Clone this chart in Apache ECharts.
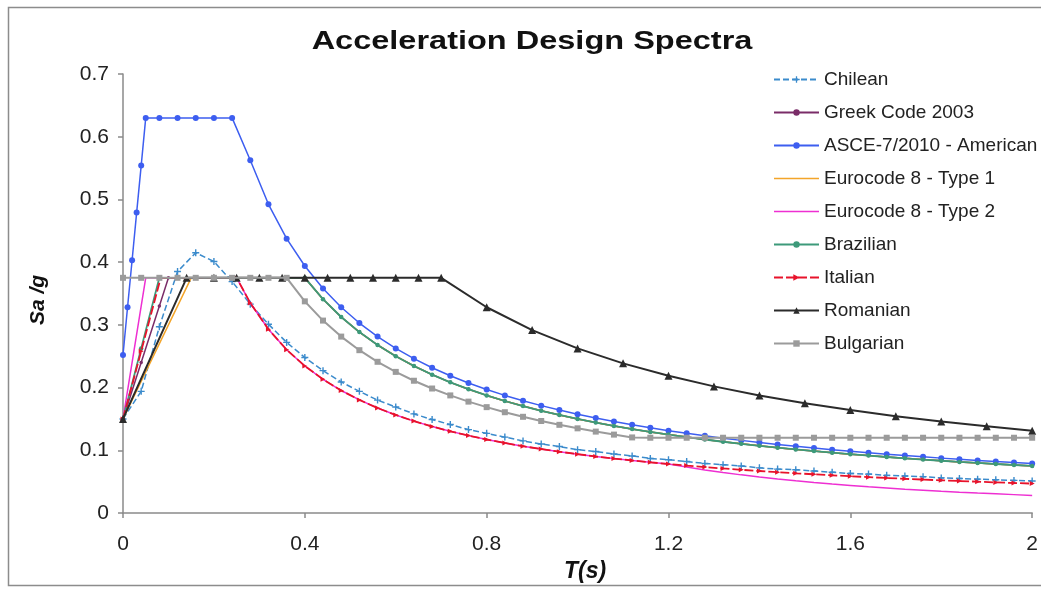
<!DOCTYPE html>
<html>
<head>
<meta charset="utf-8">
<script src="https://cdn.jsdelivr.net/npm/echarts@6/dist/echarts.min.js"></script>
<style>
html,body{margin:0;padding:0;background:#fff;}
#chart{width:1041px;height:589px;}
</style>
</head>
<body>
<div id="chart"></div>
<script>
// ---------------- DATA ----------------
const chartTitle = 'Acceleration Design Spectra';
const xAxisTitle = 'T(s)';
const yAxisTitle = 'Sa /g';
const seriesNames = ['Chilean','Greek Code 2003','ASCE-7/2010 - American','Eurocode 8 - Type 1','Eurocode 8 - Type 2','Brazilian','Italian','Romanian','Bulgarian'];
const xTickLabels = ['0','0.4','0.8','1.2','1.6','2'];
const yTickLabels = ['0','0.1','0.2','0.3','0.4','0.5','0.6','0.7'];

const tGrid = [0,0.04,0.08,0.12,0.16,0.20,0.24,0.28,0.32,0.36,0.40,0.44,0.48,0.52,0.56,0.60,0.64,0.68,0.72,0.76,0.80,0.84,0.88,0.92,0.96,1.00,1.04,1.08,1.12,1.16,1.20,1.24,1.28,1.32,1.36,1.40,1.44,1.48,1.52,1.56,1.60,1.64,1.68,1.72,1.76,1.80,1.84,1.88,1.92,1.96,2.00];

const tChilean = tGrid;
const saChilean = [0.150,0.194,0.297,0.385,0.415,0.401,0.369,0.333,0.301,0.272,0.248,0.227,0.209,0.194,0.180,0.169,0.158,0.149,0.141,0.133,0.127,0.121,0.115,0.110,0.106,0.101,0.098,0.094,0.091,0.087,0.085,0.082,0.079,0.077,0.075,0.072,0.070,0.069,0.067,0.065,0.063,0.062,0.060,0.059,0.058,0.056,0.055,0.054,0.053,0.052,0.051];

const tGreek = [0,0.04,0.08,0.10,0.12,0.16,0.20,0.24,0.28,0.32,0.36,0.40,0.44,0.48,0.52,0.56,0.60,0.64,0.68,0.72,0.76,0.80,0.84,0.88,0.92,0.96,1.00,1.04,1.08,1.12,1.16,1.20,1.24,1.28,1.32,1.36,1.40,1.44,1.48,1.52,1.56,1.60,1.64,1.68,1.72,1.76,1.80,1.84,1.88,1.92,1.96,2.00];
const saGreek = [0.150,0.240,0.330,0.375,0.375,0.375,0.375,0.375,0.375,0.375,0.375,0.375,0.3409,0.3125,0.2885,0.2679,0.2500,0.2344,0.2206,0.2083,0.1974,0.1875,0.1786,0.1705,0.1630,0.1563,0.1500,0.1442,0.1389,0.1339,0.1293,0.1250,0.1210,0.1172,0.1136,0.1103,0.1071,0.1042,0.1014,0.0987,0.0962,0.0938,0.0915,0.0893,0.0872,0.0852,0.0833,0.0815,0.0798,0.0781,0.0765,0.0750];

const tAsce = [0,0.01,0.02,0.03,0.04,0.05,0.08,0.12,0.16,0.20,0.24,0.28,0.32,0.36,0.40,0.44,0.48,0.52,0.56,0.60,0.64,0.68,0.72,0.76,0.80,0.84,0.88,0.92,0.96,1.00,1.04,1.08,1.12,1.16,1.20,1.24,1.28,1.32,1.36,1.40,1.44,1.48,1.52,1.56,1.60,1.64,1.68,1.72,1.76,1.80,1.84,1.88,1.92,1.96,2.00];
const saAsce = [0.252,0.328,0.403,0.479,0.554,0.630,0.630,0.630,0.630,0.630,0.630,0.5625,0.4922,0.4375,0.3938,0.3580,0.3281,0.3029,0.2813,0.2625,0.2461,0.2316,0.2188,0.2072,0.1969,0.1875,0.1790,0.1712,0.1641,0.1575,0.1514,0.1458,0.1406,0.1358,0.1313,0.1270,0.1230,0.1193,0.1158,0.1125,0.1094,0.1064,0.1036,0.1010,0.0984,0.0960,0.0938,0.0916,0.0895,0.0875,0.0856,0.0838,0.0820,0.0804,0.0788];

const tEc1 = [0,0.15,0.40,0.44,0.48,0.52,0.56,0.60,0.64,0.68,0.72,0.76,0.80,0.84,0.88,0.92,0.96,1.00,1.04,1.08,1.12,1.16,1.20,1.24,1.28,1.32,1.36,1.40,1.44,1.48,1.52,1.56,1.60,1.64,1.68,1.72,1.76,1.80,1.84,1.88,1.92,1.96,2.00];
const saEc1 = [0.150,0.375,0.375,0.3409,0.3125,0.2885,0.2679,0.2500,0.2344,0.2206,0.2083,0.1974,0.1875,0.1786,0.1705,0.1630,0.1563,0.1500,0.1442,0.1389,0.1339,0.1293,0.1250,0.1210,0.1172,0.1136,0.1103,0.1071,0.1042,0.1014,0.0987,0.0962,0.0938,0.0915,0.0893,0.0872,0.0852,0.0833,0.0815,0.0798,0.0781,0.0765,0.0750];

const tEc2 = [0,0.05,0.25,0.28,0.32,0.36,0.40,0.44,0.48,0.52,0.56,0.60,0.64,0.68,0.72,0.76,0.80,0.84,0.88,0.92,0.96,1.00,1.04,1.08,1.12,1.16,1.20,1.24,1.28,1.32,1.36,1.40,1.44,1.48,1.52,1.56,1.60,1.64,1.68,1.72,1.76,1.80,1.84,1.88,1.92,1.96,2.00];
const saEc2 = [0.150,0.375,0.375,0.3348,0.2930,0.2604,0.2344,0.2131,0.1953,0.1803,0.1674,0.1563,0.1465,0.1379,0.1302,0.1234,0.1172,0.1116,0.1065,0.1019,0.0977,0.0938,0.0901,0.0868,0.0837,0.0808,0.0781,0.0732,0.0687,0.0646,0.0608,0.0574,0.0543,0.0514,0.0487,0.0462,0.0440,0.0418,0.0399,0.0380,0.0363,0.0347,0.0332,0.0318,0.0305,0.0293,0.0281];

const tBrazilian = tGrid;
const saBrazilian = [0.150,0.2625,0.375,0.375,0.375,0.375,0.375,0.375,0.375,0.375,0.375,0.3409,0.3125,0.2885,0.2679,0.2500,0.2344,0.2206,0.2083,0.1974,0.1875,0.1786,0.1705,0.1630,0.1563,0.1500,0.1442,0.1389,0.1339,0.1293,0.1250,0.1210,0.1172,0.1136,0.1103,0.1071,0.1042,0.1014,0.0987,0.0962,0.0938,0.0915,0.0893,0.0872,0.0852,0.0833,0.0815,0.0798,0.0781,0.0765,0.0750];

const tItalian = [0,0.04,0.083,0.12,0.16,0.20,0.24,0.25,0.28,0.32,0.36,0.40,0.44,0.48,0.52,0.56,0.60,0.64,0.68,0.72,0.76,0.80,0.84,0.88,0.92,0.96,1.00,1.04,1.08,1.12,1.16,1.20,1.24,1.28,1.32,1.36,1.40,1.44,1.48,1.52,1.56,1.60,1.64,1.68,1.72,1.76,1.80,1.84,1.88,1.92,1.96,2.00];
const saItalian = [0.150,0.258,0.375,0.375,0.375,0.375,0.375,0.375,0.3348,0.2930,0.2604,0.2344,0.2131,0.1953,0.1803,0.1674,0.1563,0.1465,0.1379,0.1302,0.1234,0.1172,0.1116,0.1065,0.1019,0.0977,0.0938,0.0901,0.0868,0.0837,0.0808,0.0781,0.0756,0.0732,0.0710,0.0689,0.0670,0.0651,0.0633,0.0617,0.0601,0.0586,0.0572,0.0558,0.0545,0.0533,0.0521,0.0510,0.0499,0.0488,0.0478,0.0469];

const tRomanian = [0,0.14,0.20,0.25,0.30,0.35,0.40,0.45,0.50,0.55,0.60,0.65,0.70,0.80,0.90,1.00,1.10,1.20,1.30,1.40,1.50,1.60,1.70,1.80,1.90,2.00];
const saRomanian = [0.150,0.375,0.375,0.375,0.375,0.375,0.375,0.375,0.375,0.375,0.375,0.375,0.375,0.3281,0.2917,0.2625,0.2386,0.2188,0.2019,0.1875,0.1750,0.1641,0.1544,0.1458,0.1382,0.1313];

const tBulgarian = tGrid;
const saBulgarian = [0.375,0.375,0.375,0.375,0.375,0.375,0.375,0.375,0.375,0.375,0.3375,0.3068,0.2813,0.2596,0.2411,0.2250,0.2109,0.1985,0.1875,0.1776,0.1688,0.1607,0.1534,0.1467,0.1406,0.1350,0.1298,0.1250,0.1205,0.120,0.120,0.120,0.120,0.120,0.120,0.120,0.120,0.120,0.120,0.120,0.120,0.120,0.120,0.120,0.120,0.120,0.120,0.120,0.120,0.120,0.120];

// ---------------- STYLE ----------------
const FONT = "'Liberation Sans', Arial, sans-serif";
const plusPath = 'path://M2,0H3V2H5V3H3V5H2V3H0V2H2Z';
// plain line legend icon (tiny corner specks keep the 45x8 box so the bar stays thin)
const lineIcon = 'path://M0,0H0.01V0.01H0Z M0,3.3H45V4.7H0Z M44.99,7.99H45V8H44.99Z';
const styles = [
  {color:'#3b8bcc', symbol: plusPath, size:7, dash:[6,3], width:1.5},
  {color:'#7a2c68', symbol:'circle', size:3.5, dash:'solid', width:1.5},
  {color:'#3d5ef0', symbol:'circle', size:6, dash:'solid', width:1.5},
  {color:'#f3a52a', symbol:'none', size:0, dash:'solid', width:1.5, icon: lineIcon},
  {color:'#ee2fd2', symbol:'none', size:0, dash:'solid', width:1.5, icon: lineIcon},
  {color:'#3d9a7a', symbol:'circle', size:4.5, dash:'solid', width:1.8},
  {color:'#e8132b', symbol:'triangle', size:5, dash:[9,3], width:1.8, rotate:-90},
  {color:'#2b2b2b', symbol:'triangle', size:8, dash:'solid', width:2},
  {color:'#9b9b9b', symbol:'rect', size:6, dash:'solid', width:2}
];
const tArrays = [tChilean,tGreek,tAsce,tEc1,tEc2,tBrazilian,tItalian,tRomanian,tBulgarian];
const saArrays = [saChilean,saGreek,saAsce,saEc1,saEc2,saBrazilian,saItalian,saRomanian,saBulgarian];

const series = seriesNames.map((name,i)=>{
  const s = styles[i];
  return {
    name: name,
    type: 'line',
    data: tArrays[i].map((t,j)=>[t, saArrays[i][j]]),
    symbol: s.symbol,
    symbolSize: s.size,
    symbolRotate: s.rotate || 0,
    showSymbol: s.symbol !== 'none',
    lineStyle: {color: s.color, width: s.width, type: s.dash},
    itemStyle: {color: s.color, borderWidth: 0},
    emphasis: {disabled: true},
    animation: false,
    clip: true,
    z: 2 + i
  };
});

const legendData = seriesNames.map((name,i)=>{
  const s = styles[i];
  if (s.icon) {
    return {name: name, icon: s.icon, itemStyle: {color: s.color, borderWidth: 0}};
  }
  return {name: name};
});

const chart = echarts.init(document.getElementById('chart'), null, {renderer:'canvas'});
chart.setOption({
  backgroundColor: '#ffffff',
  animation: false,
  grid: {left: 123, right: 4, top: 74, bottom: 76},
  legend: {
    orient: 'vertical',
    left: 773, top: 70, padding: 0,
    itemWidth: 45, itemHeight: 8, itemGap: 14,
    data: legendData,
    textStyle: {fontFamily: FONT, fontSize: 19, color: '#222', lineHeight: 19}
  },
  xAxis: {
    type: 'value', min: 0, max: 2, interval: 0.4,
    axisLine: {show: true, lineStyle: {color: '#8a8a8a', width: 1.5}},
    axisTick: {show: true, inside: false, length: 5, lineStyle: {color: '#8a8a8a', width: 1.5}},
    axisLabel: {fontFamily: FONT, fontSize: 21, color: '#222', margin: 21,
      formatter: (v)=> xTickLabels[Math.round(v/0.4)]},
    splitLine: {show: false}
  },
  yAxis: {
    type: 'value', min: 0, max: 0.7, interval: 0.1,
    axisLine: {show: true, lineStyle: {color: '#8a8a8a', width: 1.5}},
    axisTick: {show: true, inside: false, length: 5, lineStyle: {color: '#8a8a8a', width: 1.5}},
    axisLabel: {fontFamily: FONT, fontSize: 21, color: '#222', margin: 14,
      formatter: (v)=> yTickLabels[Math.round(v/0.1)]},
    splitLine: {show: false}
  },
  graphic: [
    {
      type: 'rect', silent: true, z: -10,
      shape: {x: 8.5, y: 7.5, width: 1100, height: 578},
      style: {fill: 'none', stroke: '#8c8c8c', lineWidth: 1.5}
    },
    {
      type: 'text', silent: true, x: 532, y: 42, scaleX: 1.3,
      style: {text: chartTitle, fontFamily: FONT, fontWeight: 'bold', fontSize: 25, fill: '#111',
        align: 'center', verticalAlign: 'middle', textAlign: 'center', textVerticalAlign: 'middle'}
    },
    {
      type: 'text', silent: true, x: 585, y: 572,
      style: {text: xAxisTitle, fontFamily: FONT, fontWeight: 'bold', fontStyle: 'italic', fontSize: 23, fill: '#111',
        align: 'center', verticalAlign: 'middle', textAlign: 'center', textVerticalAlign: 'middle'}
    },
    {
      type: 'text', silent: true, x: 38, y: 300, rotation: Math.PI / 2,
      style: {text: yAxisTitle, fontFamily: FONT, fontWeight: 'bold', fontStyle: 'italic', fontSize: 21, fill: '#111',
        align: 'center', verticalAlign: 'middle', textAlign: 'center', textVerticalAlign: 'middle'}
    }
  ],
  series: series
});
</script>
</body>
</html>
